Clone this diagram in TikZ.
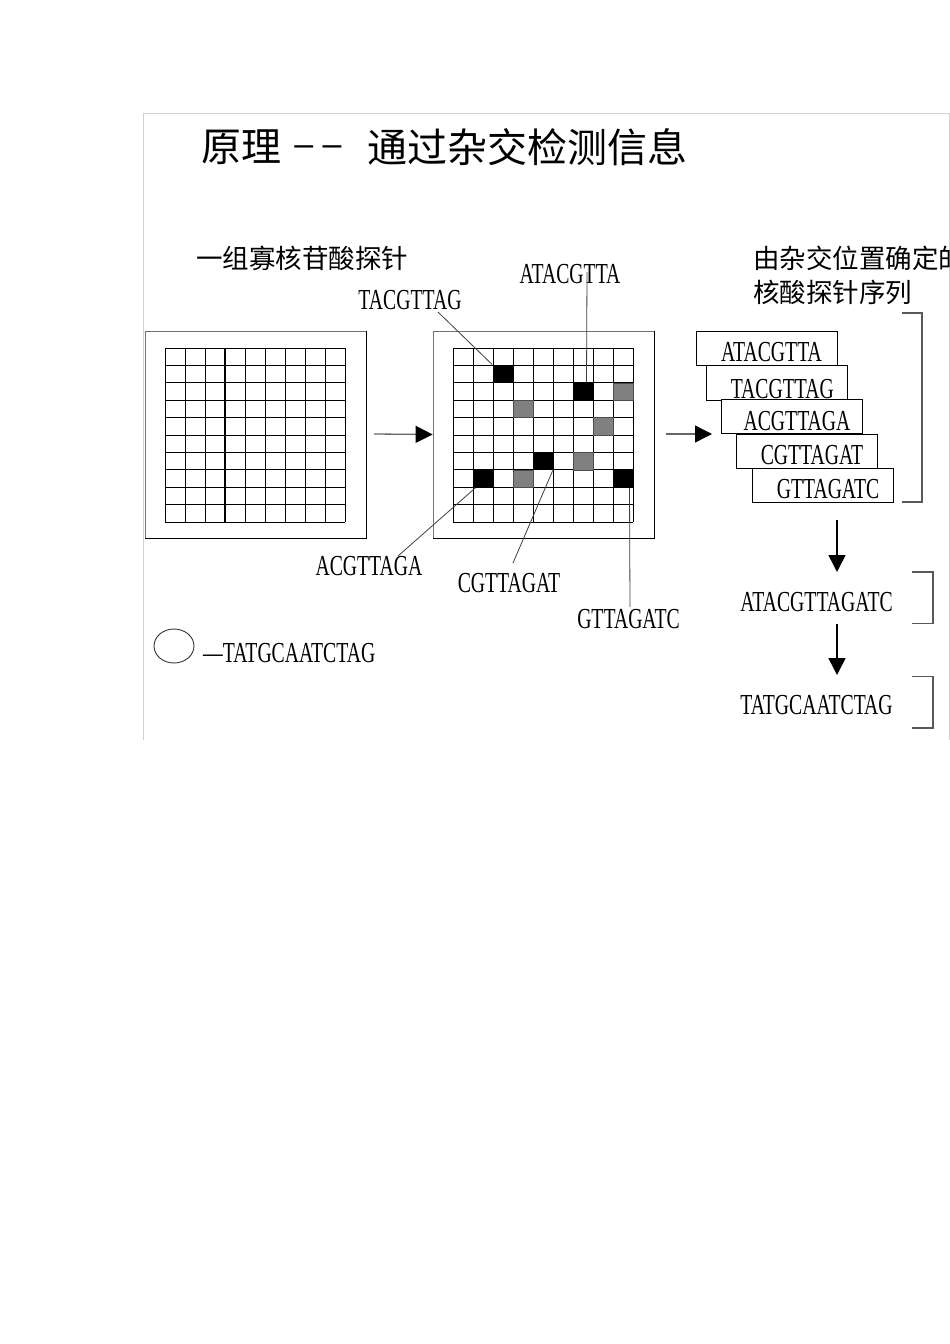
\documentclass[tikz,border=0pt]{standalone}
\usepackage{fontspec}
\newfontfamily\cjk{Noto Sans CJK SC}
\newfontfamily\seqf[FakeStretch=0.68]{Liberation Serif}
\usetikzlibrary{arrows.meta,shapes.geometric}
\begin{document}
\begin{tikzpicture}[x=1pt,y=-1pt,
  seq/.style={font=\seqf\fontsize{29}{29}\selectfont, inner sep=0pt},
  cjkl/.style={font=\cjk\fontsize{26.5}{26.5}\selectfont, inner sep=0pt},
  titlef/.style={font=\cjk\fontsize{40}{40}\selectfont, inner sep=0pt},
  chip/.style={draw=black!55, line width=0.8pt, minimum width=221pt, minimum height=207pt, inner sep=0pt},
  gridl/.style={draw=black, line width=0.8pt},
  blackcell/.style={fill=black, minimum width=21pt, minimum height=18.5pt, inner sep=0pt},
  graycell/.style={fill=black!50, draw=black!70, line width=0.6pt, minimum width=20pt, minimum height=17.4pt, inner sep=0pt},
  leader/.style={draw=black!75, line width=0.8pt},
  arr/.style={draw=black!60, line width=1.3pt, -{Triangle[length=17pt,width=17pt,color=black]}},
  darr/.style={draw=black, line width=1.5pt, -{Triangle[length=17pt,width=17pt,color=black]}},
  probebox/.style={draw=black, fill=white, line width=0.9pt, minimum width=141pt, minimum height=34.6pt, inner sep=0pt},
  brk/.style={draw=black!65, line width=1.8pt},
  framel/.style={draw=black!18, line width=1pt}
]
\useasboundingbox (0,0) rectangle (950,1344);
\fill[white] (0,0) rectangle (950,1344);
\begin{scope}
\clip (0,0) rectangle (950,1344);
% frame
\draw[framel] (143,740) -- (143,113) -- (949,113) -- (949,740);

% title
\node[titlef] (t1) at (241,147) {原理};
\node[font=\fontspec{Liberation Sans}\fontsize{34}{34}\selectfont, inner sep=0pt] (t2) at (318,151) {– –};
\node[titlef] (t3) at (527.5,147) {通过杂交检测信息};

% chinese labels
\node[cjkl] (h1) at (302,258) {一组寡核苷酸探针};
\node[cjkl, anchor=west] (h2) at (753,258) {由杂交位置确定的};
\node[cjkl, anchor=west] (h3) at (753,292) {核酸探针序列};

% left chip
\node[chip] (chipA) at (255.5,434.5) {};
\draw[line width=1.8pt] (chipA.north east) -- (chipA.south east) -- (chipA.south west);
\foreach \i in {0,...,9} \draw[gridl] ({165+20*\i},348) -- ({165+20*\i},522);
\draw[line width=1.5pt] (225,348) -- (225,522);
\foreach \j in {0,...,10} \draw[gridl] (165,{348+17.4*\j}) -- (345,{348+17.4*\j});

% middle chip
\node[chip] (chipB) at (543.5,434.5) {};
\draw[line width=1.8pt] (chipB.north east) -- (chipB.south east) -- (chipB.south west);
\foreach \i in {0,...,9} \draw[gridl] ({453+20*\i},348) -- ({453+20*\i},522);
\foreach \j in {0,...,10} \draw[gridl] (453,{348+17.4*\j}) -- (633,{348+17.4*\j});

% gray cells
\node[graycell] (g1) at (623,391.5) {};
\node[graycell] (g2) at (523,408.9) {};
\node[graycell] (g3) at (603,426.3) {};
\node[graycell] (g4) at (583,461.1) {};
\node[graycell] (g5) at (523,478.5) {};
% black cells
\node[blackcell] (c1) at (503,374.1) {};
\node[blackcell] (c2) at (583.5,391.5) {};
\node[blackcell] (c3) at (543,461.1) {};
\node[blackcell] (c4) at (483,478.5) {};
\node[blackcell] (c5) at (623.5,478.5) {};

% probe labels
\node[seq] (l1) at (410,300.5) {TACGTTAG};
\node[seq] (l2) at (570,274) {ATACGTTA};
\node[seq] (l3) at (369,566) {ACGTTAGA};
\node[seq] (l4) at (509,583.5) {CGTTAGAT};
\node[seq] (l5) at (628.5,619) {GTTAGATC};

\coordinate (e1) at (438,312);
\coordinate (e2) at (587,272);
\coordinate (e3) at (398,556);
\coordinate (e4) at (513,563);
\coordinate (e5) at (630,607);
\draw[leader] (e1) -- (c1.north west);
\draw[leader] (e2) -- ([xshift=3pt]c2.north);
\draw[leader] (e3) -- ([xshift=3pt]c4.south west);
\draw[leader] (e4) -- ([xshift=-1pt]c3.south east);
\draw[leader] (e5) -- ([xshift=6pt]c5.south);

% arrows between chips
\coordinate (a1s) at (374,434);
\coordinate (a2s) at (666,434);
\coordinate (a2e) at (712,434);
\draw[arr] (a1s) -- (chipB.west);
\draw[arr] (a2s) -- (a2e);

% stacked probe boxes
\node[probebox] (b1) at (766.5,348.3) {};
\node[seq] (bt1) at (771.5,352.3) {ATACGTTA};
\node[probebox] (b2) at (777.3,382.8) {};
\node[seq] (bt2) at (782.3,388.8) {TACGTTAG};
\node[probebox] (b3) at (792,416.5) {};
\node[seq] (bt3) at (797,421) {ACGTTAGA};
\node[probebox] (b4) at (807,451.5) {};
\node[seq] (bt4) at (812,455.5) {CGTTAGAT};
\node[probebox] (b5) at (822.5,485.5) {};
\node[seq] (bt5) at (828,489) {GTTAGATC};

% brackets
\draw[brk] (902,313) -- (922,313) -- (922,502) -- (902,502);
\draw[brk] (912,572) -- (933,572) -- (933,623.5) -- (912,623.5);
\draw[brk] (912,676.5) -- (933,676.5) -- (933,728) -- (912,728);

% result sequences
\node[seq] (s1) at (816.5,602) {ATACGTTAGATC};
\node[seq] (s2) at (816.5,705.5) {TATGCAATCTAG};
\coordinate (d1s) at (837,520);
\coordinate (d1e) at (837,572);
\coordinate (d2s) at (837,624);
\coordinate (d2e) at (837,675);
\draw[darr] (d1s) -- (d1e);
\draw[darr] (d2s) -- (d2e);

% bead and target
\node[draw=black!80, line width=0.9pt, ellipse, minimum width=40pt, minimum height=34pt, inner sep=0pt] (bead) at (174,646) {};
\node[seq, anchor=west] (tgt) at (203,653.5) {—TATGCAATCTAG};
\end{scope}
\end{tikzpicture}
\end{document}
